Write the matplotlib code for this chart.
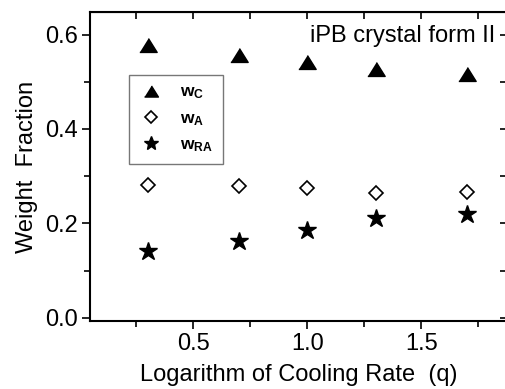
import matplotlib
matplotlib.use("Agg")
import matplotlib.pyplot as plt
from matplotlib.ticker import MultipleLocator, FormatStrFormatter

plt.rcParams['font.family'] = ['Liberation Sans', 'DejaVu Sans']
plt.rcParams['mathtext.fontset'] = 'custom'
plt.rcParams['mathtext.rm'] = 'Liberation Sans'
plt.rcParams['mathtext.bf'] = 'Liberation Sans:bold'

# data
log_q = [0.3, 0.7, 1.0, 1.3, 1.7]
w_c = [0.578, 0.556, 0.542, 0.528, 0.516]
w_a = [0.281, 0.279, 0.274, 0.265, 0.267]
w_ra = [0.141, 0.163, 0.186, 0.212, 0.220]

# flattened triangle like the original
tri = [(-1, -0.8), (1, -0.8), (0, 0.8)]

fig = plt.figure(figsize=(5.05, 3.89), dpi=100)
ax = fig.add_axes([90 / 505, 68 / 389, 417 / 505, 309 / 389])

ax.plot(log_q, w_c, linestyle='none', marker=tri, markersize=12.5,
        color='black', label=r'$\mathbf{w_C}$')
ax.plot(log_q, w_a, linestyle='none', marker='D', markersize=7.3,
        markerfacecolor='white', markeredgecolor='black', markeredgewidth=1.2,
        label=r'$\mathbf{w_A}$')
ax.plot(log_q, w_ra, linestyle='none', marker='*', markersize=13.5,
        color='black', label=r'$\mathbf{w_{RA}}$')

ax.set_xlim(0.048, 1.875)
ax.set_ylim(-0.007, 0.648)
ax.xaxis.set_major_locator(MultipleLocator(0.5))
ax.xaxis.set_minor_locator(MultipleLocator(0.25))
ax.yaxis.set_major_locator(MultipleLocator(0.2))
ax.yaxis.set_minor_locator(MultipleLocator(0.1))
ax.xaxis.set_major_formatter(FormatStrFormatter('%.1f'))
ax.yaxis.set_major_formatter(FormatStrFormatter('%.1f'))

ax.tick_params(axis='both', which='major', labelsize=17, length=6, width=1.2,
               direction='out', top=False, right=False, pad=3)
ax.tick_params(axis='both', which='minor', length=4, width=1.2, direction='out',
               top=False, right=False)
for s in ax.spines.values():
    s.set_linewidth(1.5)

# inward ticks on top and right
top = ax.secondary_xaxis('top')
top.set_xticks([0.25, 0.5, 0.75, 1.0, 1.25, 1.5, 1.75])
top.tick_params(direction='in', length=5, width=1.2, labeltop=False)
top.set_xticklabels([])
right = ax.secondary_yaxis('right')
right.set_yticks([0.0, 0.1, 0.2, 0.3, 0.4, 0.5, 0.6])
right.tick_params(direction='in', length=5, width=1.2, labelright=False)
right.set_yticklabels([])

ax.set_xlabel('Logarithm of Cooling Rate  (q)', fontsize=17, labelpad=6)
ax.set_ylabel('Weight  Fraction', fontsize=17, labelpad=5)

ax.text(0.971, 0.922, 'iPB crystal form II', transform=ax.transAxes,
        ha='right', va='center', fontsize=17)

leg = ax.legend(loc='upper left', bbox_to_anchor=(0.0935, 0.796), frameon=True,
                fancybox=False, fontsize=12.5, handletextpad=1.0, markerscale=0.8,
                borderpad=0.55, labelspacing=0.55, handlelength=1.4,
                borderaxespad=0)
leg.get_frame().set_edgecolor('#555555')
leg.get_frame().set_linewidth(1.0)

fig.savefig('out.png', dpi=100)
